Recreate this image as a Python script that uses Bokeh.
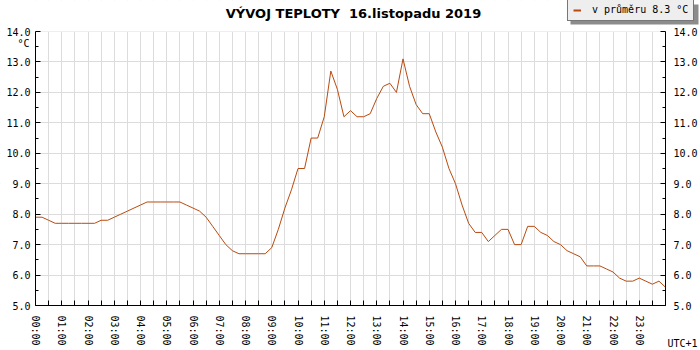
from bokeh.plotting import figure
from bokeh.models import (Range1d, LinearAxis, FixedTicker, PrintfTickFormatter,
                          Label, Legend, LegendItem, ColumnDataSource, BoxAnnotation)
from bokeh.embed import file_html
from bokeh.resources import INLINE

# ---- data ----
title_text = "VÝVOJ TEPLOTY\u00a0 16.listopadu 2019"
legend_text = "v průměru 8.3 °C"
unit_text = "°C"
tz_text = "UTC+1"
step_minutes = 15  # one reading every 15 minutes, 00:00 .. 24:00
temps = [
    7.9, 7.9, 7.8, 7.7, 7.7, 7.7, 7.7, 7.7,   # 00:00-01:45
    7.7, 7.7, 7.8, 7.8, 7.9, 8.0, 8.1, 8.2,   # 02:00-03:45
    8.3, 8.4, 8.4, 8.4, 8.4, 8.4, 8.4, 8.3,   # 04:00-05:45
    8.2, 8.1, 7.9, 7.6, 7.3, 7.0, 6.8, 6.7,   # 06:00-07:45
    6.7, 6.7, 6.7, 6.7, 6.9, 7.5, 8.2, 8.8,   # 08:00-09:45
    9.5, 9.5, 10.5, 10.5, 11.2, 12.7, 12.1, 11.2,  # 10:00-11:45
    11.4, 11.2, 11.2, 11.3, 11.8, 12.2, 12.3, 12.0,  # 12:00-13:45
    13.1, 12.2, 11.6, 11.3, 11.3, 10.7, 10.2, 9.5,   # 14:00-15:45
    9.0, 8.3, 7.7, 7.4, 7.4, 7.1, 7.3, 7.5,   # 16:00-17:45
    7.5, 7.0, 7.0, 7.6, 7.6, 7.4, 7.3, 7.1,   # 18:00-19:45
    7.0, 6.8, 6.7, 6.6, 6.3, 6.3, 6.3, 6.2,   # 20:00-21:45
    6.1, 5.9, 5.8, 5.8, 5.9, 5.8, 5.7, 5.8,   # 22:00-23:45
    5.6,                                      # 24:00
]
hour_ticks = list(range(25))
hour_labels = ["00:00", "01:00", "02:00", "03:00", "04:00", "05:00", "06:00", "07:00",
               "08:00", "09:00", "10:00", "11:00", "12:00", "13:00", "14:00", "15:00",
               "16:00", "17:00", "18:00", "19:00", "20:00", "21:00", "22:00", "23:00", ""]
half_hour_ticks = [h + 0.5 for h in range(24)]
y_ticks = [5.0, 6.0, 7.0, 8.0, 9.0, 10.0, 11.0, 12.0, 13.0, 14.0]
y_minor_ticks = [5.5, 6.5, 7.5, 8.5, 9.5, 10.5, 11.5, 12.5, 13.5]
x_min, x_max = 0, 24
y_min, y_max = 5.0, 14.0

hours = [i * step_minutes / 60 for i in range(len(temps))]

# ---- layout (pixels) ----
W, H = 700, 350
PLOT_L, PLOT_R, PLOT_T, PLOT_B = 35, 665, 31, 305
px_per_x = (PLOT_R - PLOT_L) / (x_max - x_min)
px_per_y = (PLOT_B - PLOT_T) / (y_max - y_min)

def px_to_x(px):
    return x_min + (px - PLOT_L) / px_per_x

def py_to_y(py):
    return y_max - (py - PLOT_T) / px_per_y

LINE_COLOR = "#b84a10"
GRID_COLOR = "#dcdcdc"
MONO = "DejaVu Sans Mono"

# The frame covers the whole canvas so that every text can be drawn in it;
# the axes are pinned to the data edges with fixed_location.
p = figure(width=W, height=H, title=None,
           x_range=Range1d(px_to_x(0), px_to_x(W)),
           y_range=Range1d(py_to_y(H), py_to_y(0)),
           output_backend="svg", toolbar_location=None, min_border=0)
p.outline_line_color = None
p.background_fill_color = "white"
p.border_fill_color = "white"

# x axis
xa = p.xaxis[0]
xa.fixed_location = y_min
xa.bounds = (x_min, x_max)
xa.ticker = FixedTicker(ticks=hour_ticks, minor_ticks=half_hour_ticks)
xa.major_label_overrides = {t: lab for t, lab in zip(hour_ticks, hour_labels)}
xa.major_label_orientation = "vertical"
xa.major_label_standoff = 10
xa.major_tick_in = 5
xa.major_tick_out = 0
xa.minor_tick_in = 5
xa.minor_tick_out = 0
xa.major_label_text_font = MONO
xa.major_label_text_font_size = "10px"
xa.major_label_text_color = "black"
xa.axis_line_color = "black"
xa.major_tick_line_color = "black"
xa.minor_tick_line_color = "black"

# y axes
def style_y(ax, standoff, loc):
    ax.fixed_location = loc
    ax.bounds = (y_min, y_max)
    ax.ticker = FixedTicker(ticks=y_ticks, minor_ticks=y_minor_ticks)
    ax.formatter = PrintfTickFormatter(format="%.1f")
    ax.major_label_standoff = standoff
    ax.major_tick_in = 5
    ax.major_tick_out = 0
    ax.minor_tick_in = 3
    ax.minor_tick_out = 0
    ax.major_label_text_font = MONO
    ax.major_label_text_font_size = "10px"
    ax.major_label_text_color = "black"
    ax.axis_line_color = "black"
    ax.major_tick_line_color = "black"
    ax.minor_tick_line_color = "black"

style_y(p.yaxis[0], 5, x_min)
ra = LinearAxis()
style_y(ra, 8, x_max)
p.add_layout(ra, "right")

# grids
p.xgrid.grid_line_color = GRID_COLOR
p.xgrid.minor_grid_line_color = GRID_COLOR
p.ygrid.grid_line_color = GRID_COLOR

# white masks outside the data area (hide grid lines there)
for kw in (dict(right=x_min), dict(left=x_max), dict(bottom=y_max), dict(top=y_min)):
    p.add_layout(BoxAnnotation(fill_color="white", fill_alpha=1.0, line_color=None,
                               level="glyph", **kw))

src = ColumnDataSource(data=dict(h=hours, t=temps))
p.line("h", "t", source=src, line_color=LINE_COLOR, line_width=1)

# legend with a drop shadow
LEG_L, LEG_T, LEG_R, LEG_B = 567, 1, 695, 21
SHADOW = 3
p.add_layout(BoxAnnotation(left=px_to_x(LEG_L + SHADOW), right=px_to_x(LEG_R + SHADOW),
                           top=py_to_y(LEG_T + SHADOW), bottom=py_to_y(LEG_B + SHADOW),
                           fill_color="#8c8c8c", fill_alpha=1.0, line_color=None))
nan = float("nan")
legend_src = ColumnDataSource(data=dict(h=[nan], t=[nan]))
r_leg = p.line("h", "t", source=legend_src, line_color=LINE_COLOR, line_width=2)
p.add_layout(Legend(items=[LegendItem(label=legend_text, renderers=[r_leg])],
                    location=(LEG_L, H - LEG_B), orientation="vertical",
                    background_fill_color="#eeeeee", background_fill_alpha=1.0,
                    border_line_color="black", border_line_width=1,
                    label_text_font=MONO, label_text_font_size="10px",
                    label_text_color="black",
                    label_height=10, glyph_height=10, glyph_width=8,
                    label_standoff=11, padding=5, spacing=0, margin=0))

# title, unit and time zone texts
p.add_layout(Label(x=(x_min + x_max) / 2, y=y_max, x_offset=3, y_offset=18, text=title_text,
                   text_font="DejaVu Sans", text_font_style="bold", text_font_size="13px",
                   text_align="center", text_baseline="middle", text_color="black"))
p.add_layout(Label(x=x_min, y=y_max, x_offset=-18, y_offset=-12, text=unit_text,
                   text_font=MONO, text_font_size="10px",
                   text_align="left", text_baseline="middle", text_color="black"))
p.add_layout(Label(x=x_max, y=y_min, x_offset=2, y_offset=-38, text=tz_text,
                   text_font=MONO, text_font_size="10px",
                   text_align="left", text_baseline="middle", text_color="black"))

open("out.html", "w").write(file_html(p, INLINE))
